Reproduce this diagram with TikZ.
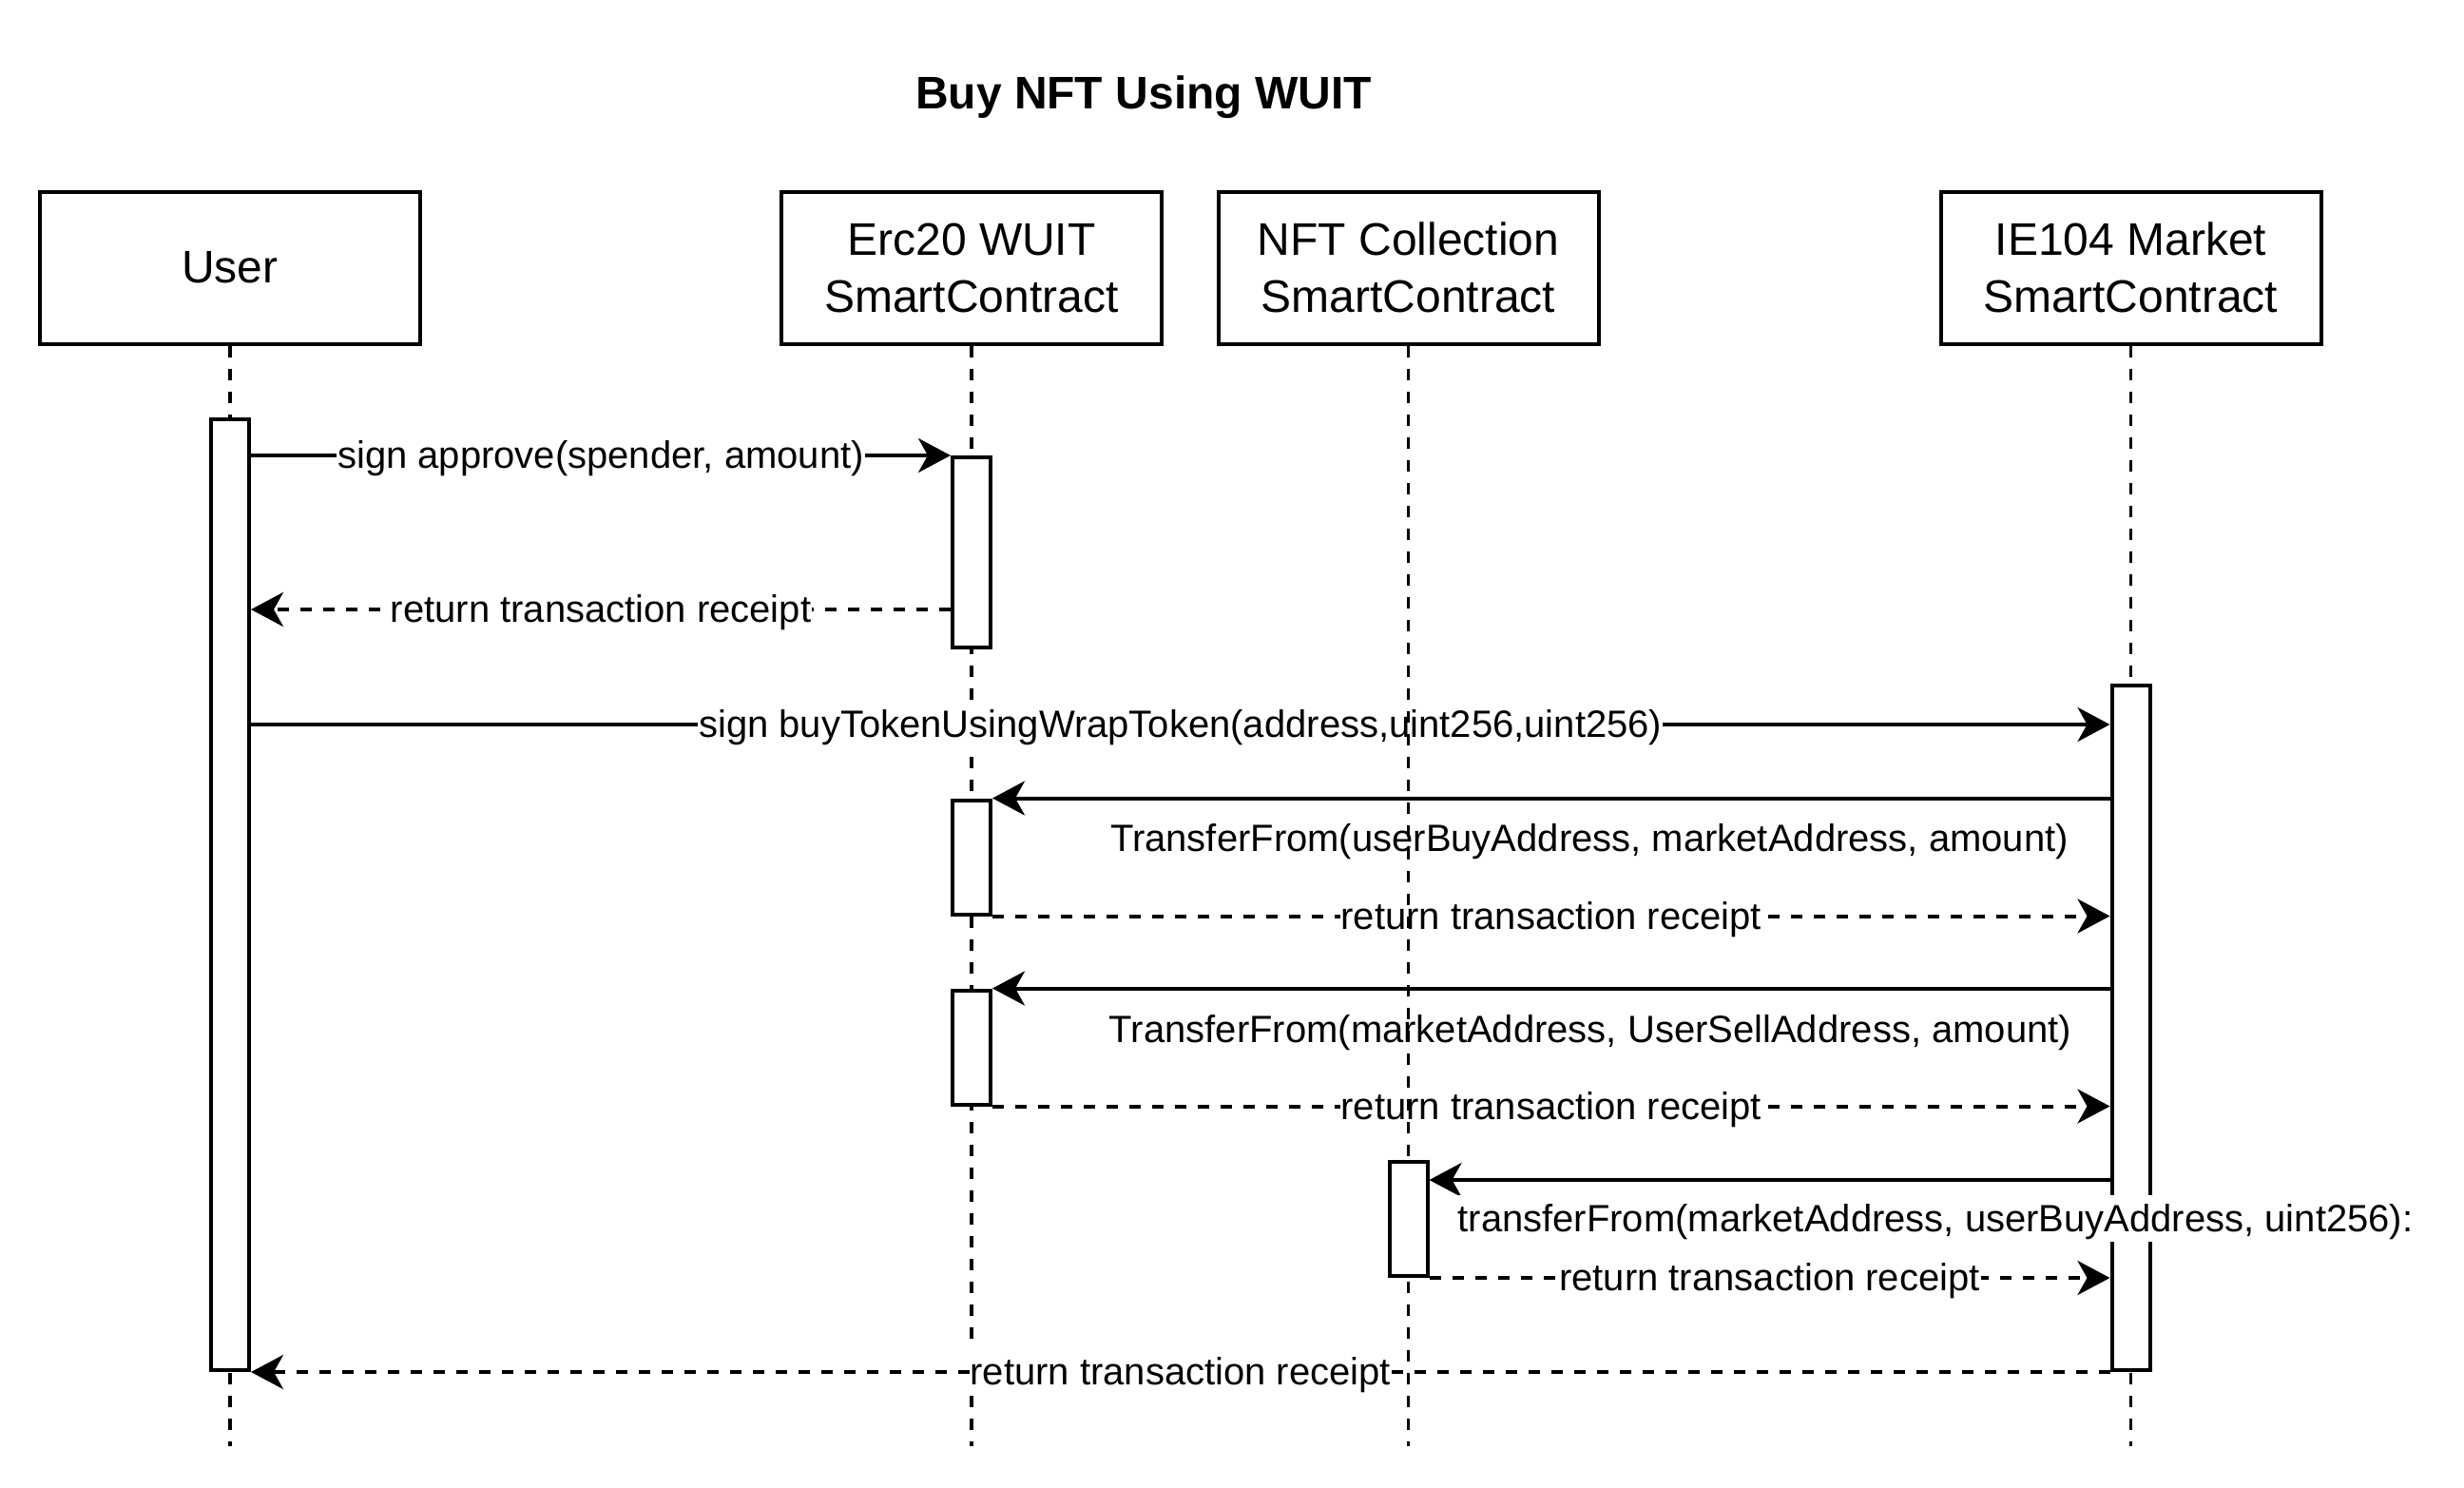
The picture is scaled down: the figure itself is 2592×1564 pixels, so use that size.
\documentclass[tikz,border=0pt]{standalone}
\usepackage{fontspec}
\setmainfont{Liberation Sans}
\usetikzlibrary{arrows.meta}
\begin{document}
\begin{tikzpicture}[x=1pt,y=-1pt,
  actor/.style={draw, line width=4pt, fill=white, minimum width=400pt, minimum height=160pt, align=center, font=\fontsize{48}{60}\selectfont, inner sep=0pt},
  lifeline/.style={line width=3.5pt, dash pattern=on 12pt off 12pt},
  actbar/.style={draw, line width=4pt, fill=white, minimum width=40pt, inner sep=0pt},
  msg/.style={line width=4pt, -{Stealth[length=34pt,width=36pt,inset=10pt]}},
  ret/.style={msg, dash pattern=on 12pt off 12pt},
  lbl/.style={fill=white, font=\fontsize{40}{48}\selectfont, text height=36pt, text depth=9pt, inner xsep=1pt, inner ysep=2pt},
]
\fill[white] (0,0) rectangle (2592,1564);
\useasboundingbox (0,0) rectangle (2592,1564);

\node[font=\bfseries\fontsize{48}{58}\selectfont] (title) at (1203,102) {Buy NFT Using WUIT};

\node[actor] (user) at (242,281.5) {User};
\node[actor] (erc) at (1022,281.5) {Erc20 WUIT\\SmartContract};
\node[actor] (nft) at (1481.5,281.5) {NFT Collection\\SmartContract};
\node[actor] (mkt) at (2241.5,281.5) {IE104 Market\\SmartContract};

\coordinate (bottom) at (0,1521);
\coordinate (y2) at (0,641);
\coordinate (y3) at (0,762);
\coordinate (y8) at (0,1241);

\draw[lifeline] (user.south) -- (user.south |- bottom);
\draw[lifeline] (erc.south) -- (erc.south |- bottom);
\draw[lifeline] (mkt.south) -- (mkt.south |- bottom);

\node[actbar, minimum height=1000pt] (ub) at (242,941) {};
\node[actbar, minimum height=200pt] (e1) at (1022,581) {};
\node[actbar, minimum height=720pt] (mb) at (2241.5,1081) {};
\node[actbar, minimum height=120pt] (e2) at (1022,901.5) {};
\node[actbar, minimum height=120pt] (e3) at (1022,1101.5) {};

\draw[msg] (ub.east |- e1.north) -- node[lbl]{sign approve(spender, amount)} (e1.north west);
\draw[ret] (e1.west |- y2) -- node[lbl]{return transaction receipt} (ub.east |- y2);
\draw[msg] (ub.east |- y3) -- node[lbl]{sign buyTokenUsingWrapToken(address,uint256,uint256)} (mb.west |- y3);

\draw[msg] (mb.west |- e2.north) -- (e2.north east);
\node[lbl] (l4) at (1672,881.5) {TransferFrom(userBuyAddress, marketAddress, amount)};
\draw[ret] (e2.south east) -- node[lbl]{return transaction receipt} (mb.west |- e2.south);

\draw[msg] (mb.west |- e3.north) -- (e3.north east);
\node[lbl] (l6) at (1673,1082.5) {TransferFrom(marketAddress, UserSellAddress, amount)};
\draw[ret] (e3.south east) -- node[lbl]{return transaction receipt} (mb.west |- e3.south);

\draw[lifeline] (nft.south) -- (nft.south |- bottom);
\node[actbar, minimum height=120pt] (nb) at (1481.5,1282) {};

\draw[msg] (mb.west |- y8) -- (nb.east |- y8);
\node[lbl] (l8) at (2036,1281.5) {transferFrom(marketAddress, userBuyAddress, uint256):};
\draw[ret] (nb.south east) -- node[lbl]{return transaction receipt} (mb.west |- nb.south);

\draw[ret] (mb.south west) -- node[lbl]{return transaction receipt} (ub.south east);
\end{tikzpicture}
\end{document}
